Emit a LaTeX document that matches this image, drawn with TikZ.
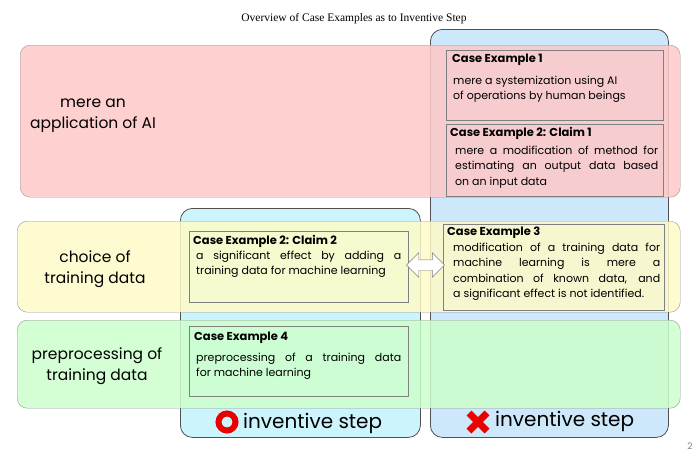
\documentclass[tikz,border=0pt]{standalone}
\usepackage{fontspec}
\setmainfont{Liberation Serif}
\setsansfont{Poppins}
\usetikzlibrary{positioning,shapes.arrows}
\hyphenpenalty=10000

\definecolor{rowpink}{RGB}{255,200,200}
\definecolor{rowyellow}{RGB}{255,250,200}
\definecolor{rowgreen}{RGB}{204,255,204}
\definecolor{colblue}{RGB}{204,232,250}
\definecolor{colcyan}{RGB}{204,244,252}
\definecolor{edgegray}{RGB}{80,80,80}
\definecolor{markred}{RGB}{235,0,0}

\tikzset{
  rowband/.style={draw=edgegray!60,rounded corners=10pt,fill opacity=.85,
    anchor=north west,inner sep=0pt},
  colband/.style={draw=edgegray,rounded corners=12pt,line width=.8pt,
    anchor=north west,inner sep=0pt},
  casebox/.style={draw=gray,line width=.6pt,anchor=north west,inner sep=0pt},
  casetitle/.style={font=\sffamily\bfseries\fontsize{11.5}{12}\selectfont,
    anchor=west,inner sep=0pt},
  casetext/.style={font=\sffamily\fontsize{11}{15.3}\selectfont,
    anchor=north west,inner sep=0pt,align=justify},
  rowlabel/.style={font=\sffamily\fontsize{15.5}{21}\selectfont,align=center},
  steplabel/.style={font=\sffamily\fontsize{20}{24}\selectfont,anchor=west,inner sep=0pt},
}

\begin{document}
\begin{tikzpicture}[x=1pt,y=-1pt]
  \useasboundingbox (0,0) rectangle (700,458);
  \node[font=\fontsize{11.5}{13}\selectfont] (title) at (354,19)
    {Overview of Case Examples as to Inventive Step};

  % columns
  \node[colband,fill=colblue,minimum width=238,minimum height=408] (nostep) at (430,29) {};
  \node[colband,fill=colcyan,minimum width=240,minimum height=229] (hasstep) at (180,208) {};

  % rows
  \node[rowband,fill=rowpink,minimum width=660,minimum height=152] (rowai) at (20,45) {};
  \node[rowband,fill=rowyellow,minimum width=663,minimum height=91] (rowchoice) at (17,221) {};
  \node[rowband,fill=rowgreen,minimum width=663,minimum height=88] (rowprep) at (17,320) {};

  \node[rowlabel] (labai) at (93,116) {mere an\\application of AI};
  \node[rowlabel] (labchoice) at (95,269) {choice of\\training data};
  \node[rowlabel] (labprep) at (97,366) {preprocessing of\\training data};

  % case examples
  \node[casebox,minimum width=217,minimum height=70] (ce1) at (446,50) {};
  \node[casetitle] (ce1t) at (452,60) {Case Example 1};
  \node[casetext,text width=205] (ce1b) at (453,76)
    {mere a systemization using AI\\of operations by human beings};

  \node[casebox,minimum width=217,minimum height=72] (ce2a) at (446,124) {};
  \node[casetitle] (ce2at) at (450,133) {Case Example 2: Claim 1};
  \node[casetext,text width=203] (ce2ab) at (455,146)
    {mere a modification of method for\linebreak estimating an output data based\linebreak on an input data};

  \node[casebox,minimum width=219,minimum height=71] (ce2b) at (189,231) {};
  \node[casetitle] (ce2bt) at (193,241) {Case Example 2: Claim 2};
  \node[casetext,text width=205] (ce2bb) at (196,251)
    {a significant effect by adding a\linebreak training data for machine learning};

  \node[casebox,minimum width=221,minimum height=86] (ce3) at (443,224) {};
  \node[casetitle] (ce3t) at (447,233) {Case Example 3};
  \node[casetext,text width=207] (ce3b) at (453,243)
    {modification of a training data for\linebreak machine learning is mere a\linebreak combination of known data, and\linebreak a significant effect is not identified.};

  \node[casebox,minimum width=219,minimum height=70] (ce4) at (189,326) {};
  \node[casetitle] (ce4t) at (194,338) {Case Example 4};
  \node[casetext,text width=205] (ce4b) at (196,353)
    {preprocessing of a training data\linebreak for machine learning};

  \node[draw=gray,fill=white,shape=double arrow,double arrow head extend=7pt,
    inner xsep=0pt,inner ysep=5pt,minimum height=38pt] (versus) at (425.5,265) {};

  % bottom marks
  \draw[markred,line width=6pt] (227,422) circle (8.5);
  \node[steplabel] (yes) at (243,423) {inventive step};
  \draw[markred,line width=7pt] (469,413) -- (487,431) (487,413) -- (469,431);
  \node[steplabel] (no) at (495,421) {inventive step};

  \node[font=\sffamily\fontsize{9}{10}\selectfont,text=gray] (page) at (690,446) {2};
\end{tikzpicture}
\end{document}
